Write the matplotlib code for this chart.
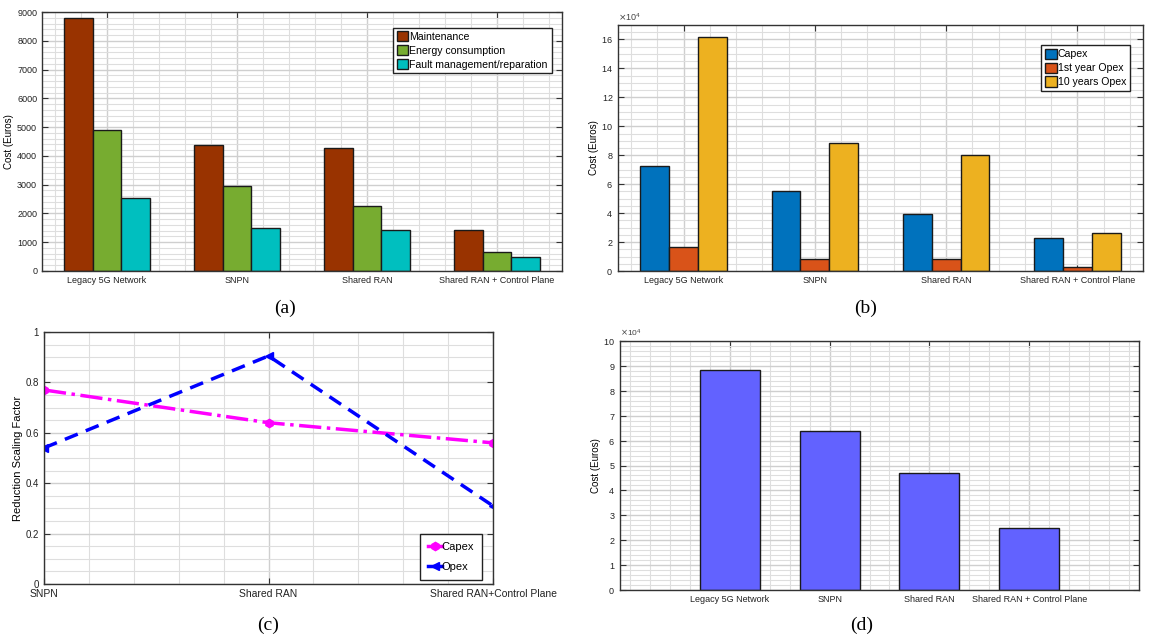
import numpy as np
import matplotlib
matplotlib.use("Agg")
import matplotlib.pyplot as plt
from matplotlib.ticker import MultipleLocator

plt.rcParams['font.family'] = ['Liberation Sans', 'DejaVu Sans']

# ---- data ----
cats4 = ["Legacy 5G Network", "SNPN", "Shared RAN", "Shared RAN + Control Plane"]

# (a) opex breakdown
maintenance = [8800, 4370, 4280, 1420]
energy = [4900, 2950, 2260, 670]
fault = [2520, 1500, 1420, 490]

# (b) capex / opex
capex = [72500, 55000, 39500, 23000]
opex_1y = [16500, 8500, 8000, 2500]
opex_10y = [162000, 88500, 80500, 26000]

# (c) reduction scaling factors
cats3 = ["SNPN", "Shared RAN", "Shared RAN+Control Plane"]
capex_factor = [0.77, 0.64, 0.56]
opex_factor = [0.54, 0.905, 0.31]

# (d) total cost
total_cost = [88200, 64000, 47000, 25000]

W, H = 1149, 637
fig = plt.figure(figsize=(W / 100, H / 100), dpi=100)


def box(l, t, r, b):
    return fig.add_axes([l / W, 1 - b / H, (r - l) / W, (b - t) / H])


def matlab_style(ax, xminor, yminor):
    ax.xaxis.set_minor_locator(MultipleLocator(xminor))
    ax.yaxis.set_minor_locator(MultipleLocator(yminor))
    ax.grid(True, which='major', color='#cfcfcf', lw=1.0)
    ax.grid(True, which='minor', color='#dedede', lw=0.8)
    ax.set_axisbelow(True)
    ax.tick_params(which='major', direction='in', top=True, right=True,
                   length=4, width=0.8, labelsize=6.5, colors='#333333',
                   labelcolor='#222222')
    ax.tick_params(which='minor', length=0)
    for s in ax.spines.values():
        s.set_color('#333333')
        s.set_linewidth(1.0)


def bar_legend(ax, anchor):
    leg = ax.legend(loc='upper right', fontsize=7.6, fancybox=False,
                    framealpha=1, edgecolor='#222222', handlelength=1.1,
                    handleheight=1.1, handletextpad=0.1, borderpad=0.35,
                    labelspacing=0.3, bbox_to_anchor=anchor)
    leg.get_frame().set_linewidth(1.0)
    return leg


ebar = dict(edgecolor='#1a1a1a', linewidth=1.0)

# ----- (a) -----
ax = box(42, 12, 562, 271)
x = np.arange(1, 5)
w = 0.22
ax.bar(x - w, maintenance, w, color='#993300', label='Maintenance', **ebar)
ax.bar(x, energy, w, color='#77ac30', label='Energy consumption', **ebar)
ax.bar(x + w, fault, w, color='#00bfbf', label='Fault management/reparation', **ebar)
ax.set_xlim(0.5, 4.5)
ax.set_ylim(0, 9000)
ax.set_xticks(x)
ax.set_xticklabels(cats4)
ax.yaxis.set_major_locator(MultipleLocator(1000))
matlab_style(ax, 0.2, 200)
ax.set_ylabel("Cost (Euros)", fontsize=7, labelpad=2)
bar_legend(ax, (0.99, 0.96))

# ----- (b) -----
ax = box(618, 25, 1143, 271)
ax.bar(x - w, capex, w, color='#0072bd', label='Capex', **ebar)
ax.bar(x, opex_1y, w, color='#d95319', label='1st year Opex', **ebar)
ax.bar(x + w, opex_10y, w, color='#edb120', label='10 years Opex', **ebar)
ax.set_xlim(0.5, 4.5)
ax.set_ylim(0, 170000)
ax.set_xticks(x)
ax.set_xticklabels(cats4)
ax.yaxis.set_major_locator(MultipleLocator(20000))
matlab_style(ax, 0.2, 5000)
ax.ticklabel_format(axis='y', style='sci', scilimits=(4, 4), useMathText=True)
ax.yaxis.get_offset_text().set_fontsize(6.5)
ax.yaxis.get_offset_text().set_color('#444444')
ax.set_ylabel("Cost (Euros)", fontsize=7, labelpad=2)
bar_legend(ax, (0.985, 0.94))

# ----- (c) -----
ax = box(44, 332, 493, 584)
xc = np.arange(1, 4)
ax.plot(xc, capex_factor, color='#ff00ff', ls='-.', lw=2.5, marker='h',
        ms=6, label='Capex')
ax.plot(xc, opex_factor, color='#0000ff', ls=(0, (4, 2.5)), lw=2.5, marker='<',
        ms=6, label='Opex')
ax.set_xlim(1, 3)
ax.set_ylim(0, 1)
ax.set_xticks(xc)
ax.set_xticklabels(cats3)
ax.yaxis.set_major_locator(MultipleLocator(0.2))
ax.yaxis.set_major_formatter(plt.FuncFormatter(lambda v, p: f"{v:g}"))
matlab_style(ax, 0.2, 0.05)
ax.tick_params(labelsize=7)
for lab in ax.get_xticklabels():
    lab.set_fontsize(7.5)
ax.set_ylabel("Reduction Scaling Factor", fontsize=8, labelpad=2)
leg = ax.legend(loc='lower right', fontsize=8, fancybox=False, framealpha=1,
                edgecolor='#222222', handlelength=1.2, handletextpad=0.0,
                borderpad=0.7, labelspacing=0.9, borderaxespad=0.4,
                bbox_to_anchor=(0.985, 0.0))
leg.get_frame().set_linewidth(1.0)
leg._legend_box.align = "right"
for h in leg.legend_handles:
    h.set_linestyle('-')
# pad the box on the left like the reference
leg.get_frame().set_width(96)

# ----- (d) -----
ax = box(620, 341, 1139, 590)
ax.bar(x, total_cost, 0.6, color='#6262ff', **ebar)
ax.set_xlim(-0.1, 5.1)
ax.set_ylim(0, 100000)
ax.set_xticks(x)
ax.set_xticklabels(cats4)
ax.yaxis.set_major_locator(MultipleLocator(10000))
matlab_style(ax, 0.2, 2000)
ax.ticklabel_format(axis='y', style='sci', scilimits=(4, 4), useMathText=True)
ax.yaxis.get_offset_text().set_fontsize(6)
ax.yaxis.get_offset_text().set_color('#444444')
ax.set_ylabel("Cost (Euros)", fontsize=7, labelpad=2)

# ----- captions -----
cap = dict(fontsize=14, family='Liberation Serif', ha='center', va='center')
fig.text(285 / W, 1 - 308 / H, "(a)", **cap)
fig.text(866 / W, 1 - 308 / H, "(b)", **cap)
fig.text(268 / W, 1 - 625 / H, "(c)", **cap)
fig.text(862 / W, 1 - 625 / H, "(d)", **cap)

fig.savefig("out.png", dpi=100)
